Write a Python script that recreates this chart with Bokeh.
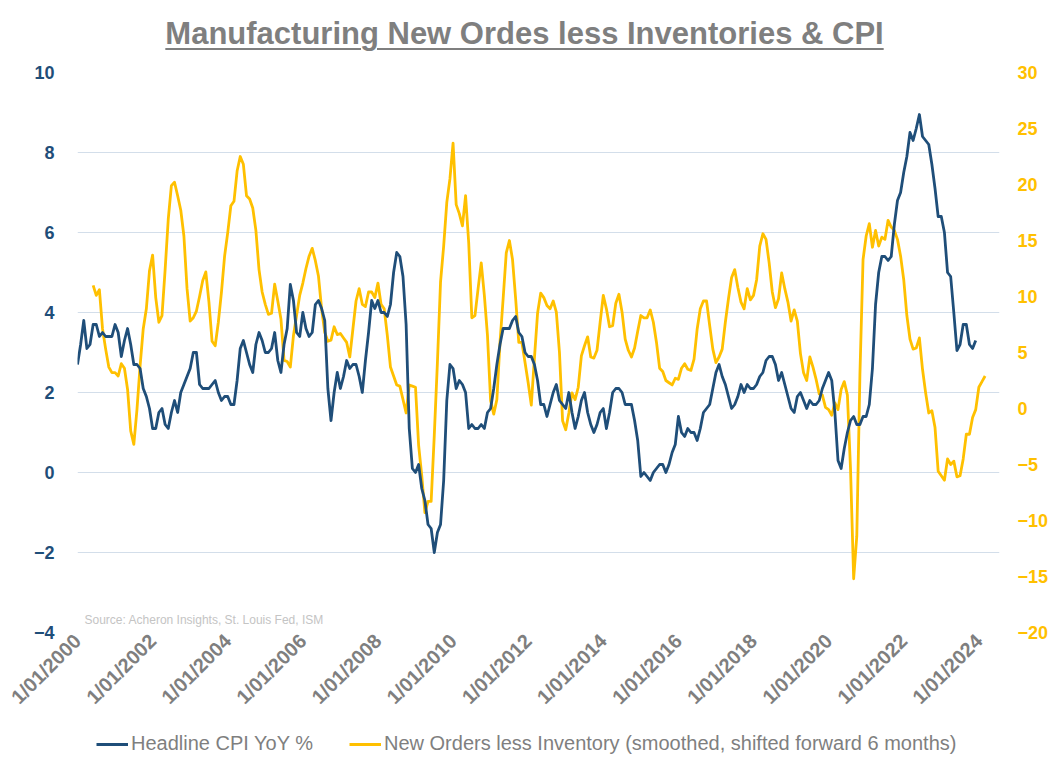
import math
from bokeh.plotting import figure
from bokeh.models import (Range1d, LinearAxis, FixedTicker, Legend, LegendItem,
                          Label, Div, ColumnDataSource)
from bokeh.layouts import column
from bokeh.embed import file_html
from bokeh.resources import INLINE

# ---------------- data ----------------
title_text = "Manufacturing New Ordes less Inventories & CPI"
source_text = "Source: Acheron Insights, St. Louis Fed, ISM"
cpi_label = "Headline CPI YoY %"
noi_label = "New Orders less Inventory (smoothed, shifted forward 6 months)"

# Headline CPI YoY %, monthly from Jan 2000
cpi_start_year, cpi_start_month = 2000, 1
cpi = [
    2.7, 3.2, 3.8, 3.1, 3.2, 3.7, 3.7, 3.4, 3.5, 3.4, 3.4, 3.4,
    3.7, 3.5, 2.9, 3.3, 3.6, 3.2, 2.7, 2.7, 2.6, 2.1, 1.9, 1.6,
    1.1, 1.1, 1.5, 1.6, 1.2, 1.1, 1.5, 1.8, 1.5, 2.0, 2.2, 2.4,
    2.6, 3.0, 3.0, 2.2, 2.1, 2.1, 2.1, 2.2, 2.3, 2.0, 1.8, 1.9,
    1.9, 1.7, 1.7, 2.3, 3.1, 3.3, 3.0, 2.7, 2.5, 3.2, 3.5, 3.3,
    3.0, 3.0, 3.1, 3.5, 2.8, 2.5, 3.2, 3.6, 4.7, 4.3, 3.5, 3.4,
    4.0, 3.6, 3.4, 3.5, 4.2, 4.3, 4.1, 3.8, 2.1, 1.3, 2.0, 2.5,
    2.1, 2.4, 2.8, 2.6, 2.7, 2.7, 2.4, 2.0, 2.8, 3.5, 4.3, 4.1,
    4.3, 4.0, 4.0, 3.9, 4.2, 5.0, 5.5, 5.4, 4.9, 3.7, 1.1, 0.1,
    0.0, 0.2, -0.4, -0.7, -1.3, -1.4, -2.0, -1.5, -1.3, -0.2, 1.8, 2.7,
    2.6, 2.1, 2.3, 2.2, 2.0, 1.1, 1.2, 1.1, 1.1, 1.2, 1.1, 1.5,
    1.6, 2.1, 2.7, 3.2, 3.6, 3.6, 3.6, 3.8, 3.9, 3.5, 3.4, 3.0,
    2.9, 2.9, 2.7, 2.3, 1.7, 1.7, 1.4, 1.7, 2.0, 2.2, 1.8, 1.7,
    1.6, 2.0, 1.5, 1.1, 1.4, 1.8, 2.0, 1.5, 1.2, 1.0, 1.2, 1.5,
    1.6, 1.1, 1.5, 2.0, 2.1, 2.1, 2.0, 1.7, 1.7, 1.7, 1.3, 0.8,
    -0.1, 0.0, -0.1, -0.2, 0.0, 0.1, 0.2, 0.2, 0.0, 0.2, 0.5, 0.7,
    1.4, 1.0, 0.9, 1.1, 1.0, 1.0, 0.8, 1.1, 1.5, 1.6, 1.7, 2.1,
    2.5, 2.7, 2.4, 2.2, 1.9, 1.6, 1.7, 1.9, 2.2, 2.0, 2.2, 2.1,
    2.1, 2.2, 2.4, 2.5, 2.8, 2.9, 2.9, 2.7, 2.3, 2.5, 2.2, 1.9,
    1.6, 1.5, 1.9, 2.0, 1.8, 1.6, 1.8, 1.7, 1.7, 1.8, 2.1, 2.3,
    2.5, 2.3, 1.5, 0.3, 0.1, 0.6, 1.0, 1.3, 1.4, 1.2, 1.2, 1.4,
    1.4, 1.7, 2.6, 4.2, 5.0, 5.4, 5.4, 5.3, 5.4, 6.2, 6.8, 7.0,
    7.5, 7.9, 8.5, 8.3, 8.6, 8.95, 8.4, 8.3, 8.2, 7.7, 7.1, 6.4,
    6.4, 6.0, 5.0, 4.9, 4.0, 3.05, 3.2, 3.7, 3.7, 3.2, 3.1, 3.3,
]

# New Orders less Inventories (smoothed, shifted forward 6 months), monthly from Jun 2000
noi_start_year, noi_start_month = 2000, 6
noi = [
    11.0, 10.1, 10.6, 7.1, 5.3, 3.7, 3.2,
    3.2, 2.9, 4.0, 3.6, 1.7, -2.0, -3.2, -0.1, 3.8, 7.1, 8.9, 12.3,
    13.7, 9.9, 7.7, 8.3, 12.4, 16.9, 19.9, 20.2, 19.0, 17.7, 15.4, 10.7,
    7.8, 8.1, 8.7, 10.0, 11.4, 12.2, 9.5, 6.0, 5.6, 7.7, 10.4, 13.6,
    15.7, 18.1, 18.5, 21.2, 22.5, 21.8, 19.0, 18.7, 17.9, 15.9, 12.4, 10.4,
    9.3, 8.4, 8.5, 11.1, 9.6, 8.0, 4.3, 4.2, 3.7, 6.5, 8.3, 10.1,
    11.2, 12.5, 13.6, 14.3, 13.2, 11.8, 8.9, 6.8, 6.0, 6.1, 7.3, 6.6,
    6.7, 6.3, 5.9, 4.6, 7.1, 9.6, 10.7, 9.3, 9.1, 10.4, 10.4, 9.9,
    11.2, 9.3, 8.9, 6.5, 3.7, 2.9, 2.1, 2.0, 0.8, -0.4, 2.1, 2.0,
    1.9, -3.3, -6.0, -9.3, -8.3, -8.3, -2.4, 4.1, 11.3, 14.5, 18.4, 20.5,
    23.7, 18.2, 17.4, 16.3, 19.0, 14.8, 8.1, 8.3, 10.7, 13.0, 10.1, 6.5,
    0.7, -0.5, 0.8, 5.9, 9.8, 13.9, 15.0, 13.3, 9.8, 5.9, 5.9, 4.1,
    2.3, 0.3, 4.5, 8.5, 10.3, 9.9, 9.2, 8.9, 9.6, 8.6, 5.0, -1.1,
    -1.9, -0.4, 1.4, 0.8, 1.9, 4.7, 5.6, 6.4, 4.6, 4.5, 5.2, 7.7,
    10.1, 8.9, 7.3, 7.4, 9.4, 10.2, 8.6, 6.2, 5.2, 4.6, 5.4, 6.9,
    8.3, 8.1, 8.1, 8.8, 7.7, 5.9, 3.6, 3.3, 2.5, 2.3, 2.1, 2.7,
    2.6, 3.6, 4.0, 3.5, 3.4, 4.4, 7.1, 8.9, 9.6, 9.6, 7.4, 5.3,
    4.1, 4.6, 5.3, 7.7, 9.8, 11.7, 12.4, 10.8, 9.5, 8.9, 10.7, 9.7,
    10.1, 11.5, 14.5, 15.6, 15.1, 13.0, 10.4, 9.0, 9.8, 12.1, 10.7, 9.5,
    7.8, 8.8, 7.8, 4.9, 3.2, 2.5, 4.6, 3.7, 2.6, 1.3, 1.2, 0.1,
    -0.1, -0.6, 0.5, -0.1, 1.7, 2.4, 1.2, -5.4, -15.2, -11.4, 3.0, 13.3,
    15.4, 16.5, 14.4, 15.9, 14.5, 15.3, 15.1, 16.8, 16.2, 15.9, 15.1, 13.6,
    11.5, 8.3, 6.2, 5.3, 5.4, 6.3, 3.5, 1.4, -0.4, -0.2, -1.7, -5.6,
    -6.0, -6.4, -4.5, -5.0, -4.7, -6.1, -6.0, -4.5, -2.3, -2.3, -0.8, -0.1,
    1.9, 2.4, 2.9,
]

tick_years = [2000, 2002, 2004, 2006, 2008, 2010, 2012, 2014, 2016, 2018, 2020, 2022, 2024]
tick_labels = ["1/01/%d" % y for y in tick_years]
left_ticks = [-4, -2, 0, 2, 4, 6, 8, 10]
right_ticks = [-20, -15, -10, -5, 0, 5, 10, 15, 20, 25, 30]

# ---------------- styling ----------------
BLUE = "#1f4e79"
YELLOW = "#ffc000"
GREY = "#7f7f7f"
GRID = "#d3deea"
FONT = "Liberation Sans"
LW = 2.8


def decimal_years(start_year, start_month, n):
    return [start_year + (start_month - 1 + i) / 12.0 for i in range(n)]


cpi_src = ColumnDataSource(dict(x=decimal_years(cpi_start_year, cpi_start_month, len(cpi)), y=cpi))
noi_src = ColumnDataSource(dict(x=decimal_years(noi_start_year, noi_start_month, len(noi)), y=noi))

p = figure(frame_width=922, frame_height=560, output_backend="svg", toolbar_location=None,
           x_range=Range1d(2000.0, 2024.55), y_range=Range1d(-4, 10),
           min_border_left=77, min_border_right=40, min_border_top=14, min_border_bottom=0)
p.outline_line_color = None
p.background_fill_color = "white"
p.border_fill_color = "white"

p.extra_y_ranges = {"right": Range1d(-20, 30)}

# x axis
xa = p.xaxis[0]
xa.ticker = FixedTicker(ticks=tick_years)
xa.major_label_overrides = {y: l for y, l in zip(tick_years, tick_labels)}
xa.major_label_orientation = math.pi / 4
xa.axis_line_color = None
xa.major_tick_line_color = None
xa.minor_tick_line_color = None
xa.major_tick_out = 0
xa.major_label_text_color = GREY
xa.major_label_text_font = FONT
xa.major_label_text_font_style = "bold"
xa.major_label_text_font_size = "20px"
xa.major_label_standoff = 5

# left axis
ya = p.yaxis[0]
ya.ticker = FixedTicker(ticks=left_ticks)
ya.axis_line_color = None
ya.major_tick_line_color = None
ya.minor_tick_line_color = None
ya.major_label_text_color = BLUE
ya.major_label_text_font = FONT
ya.major_label_text_font_style = "bold"
ya.major_label_text_font_size = "18px"
ya.major_label_standoff = 17

# right axis
ra = LinearAxis(y_range_name="right", ticker=FixedTicker(ticks=right_ticks))
ra.axis_line_color = None
ra.major_tick_line_color = None
ra.minor_tick_line_color = None
ra.major_label_text_color = YELLOW
ra.major_label_text_font = FONT
ra.major_label_text_font_style = "bold"
ra.major_label_text_font_size = "18px"
ra.major_label_standoff = 12
p.add_layout(ra, "right")

p.xgrid.grid_line_color = None
p.ygrid.ticker = FixedTicker(ticks=left_ticks)
p.ygrid.grid_line_color = GRID
p.ygrid.grid_line_width = 1

p.line("x", "y", source=noi_src, y_range_name="right", line_color=YELLOW,
       line_width=LW, line_join="round")
p.line("x", "y", source=cpi_src, line_color=BLUE, line_width=LW, line_join="round")

src_label = Label(x=7, y=6, x_units="screen", y_units="screen", text=source_text,
                  text_color="#c4c4c4", text_font=FONT, text_font_size="12px")
p.add_layout(src_label)

# ---------------- legend strip (same series; their data lie outside this strip's range) ----------------
lg = figure(width=1039, height=45, output_backend="svg", toolbar_location=None,
            x_range=Range1d(0, 1), y_range=Range1d(0, 1), min_border=0)
lg.axis.visible = False
lg.grid.visible = False
lg.outline_line_color = None
lg_cpi = lg.line("x", "y", source=cpi_src, line_color=BLUE, line_width=LW)
lg_noi = lg.line("x", "y", source=noi_src, line_color=YELLOW, line_width=LW)
legend = Legend(items=[LegendItem(label=cpi_label, renderers=[lg_cpi]),
                       LegendItem(label=noi_label, renderers=[lg_noi])],
                orientation="horizontal", location=(19, 8),
                label_text_color=GREY, label_text_font=FONT, label_text_font_size="20px",
                glyph_width=32, glyph_height=20, spacing=36, border_line_color=None,
                background_fill_alpha=0, margin=0, padding=0, label_standoff=3)
lg.add_layout(legend)

title_div = Div(
    text='<div style="width:1039px;text-align:center;font-family:\'Liberation Sans\',sans-serif;'
         'font-weight:bold;font-size:31px;color:%s;text-decoration:underline;text-decoration-thickness:2px;'
         'text-underline-offset:4px;padding-top:7px;">%s</div>' % (GREY, title_text),
    width=1039, height=48)

layout = column(title_div, p, lg, spacing=0)

open("out.html", "w").write(file_html(layout, INLINE))
